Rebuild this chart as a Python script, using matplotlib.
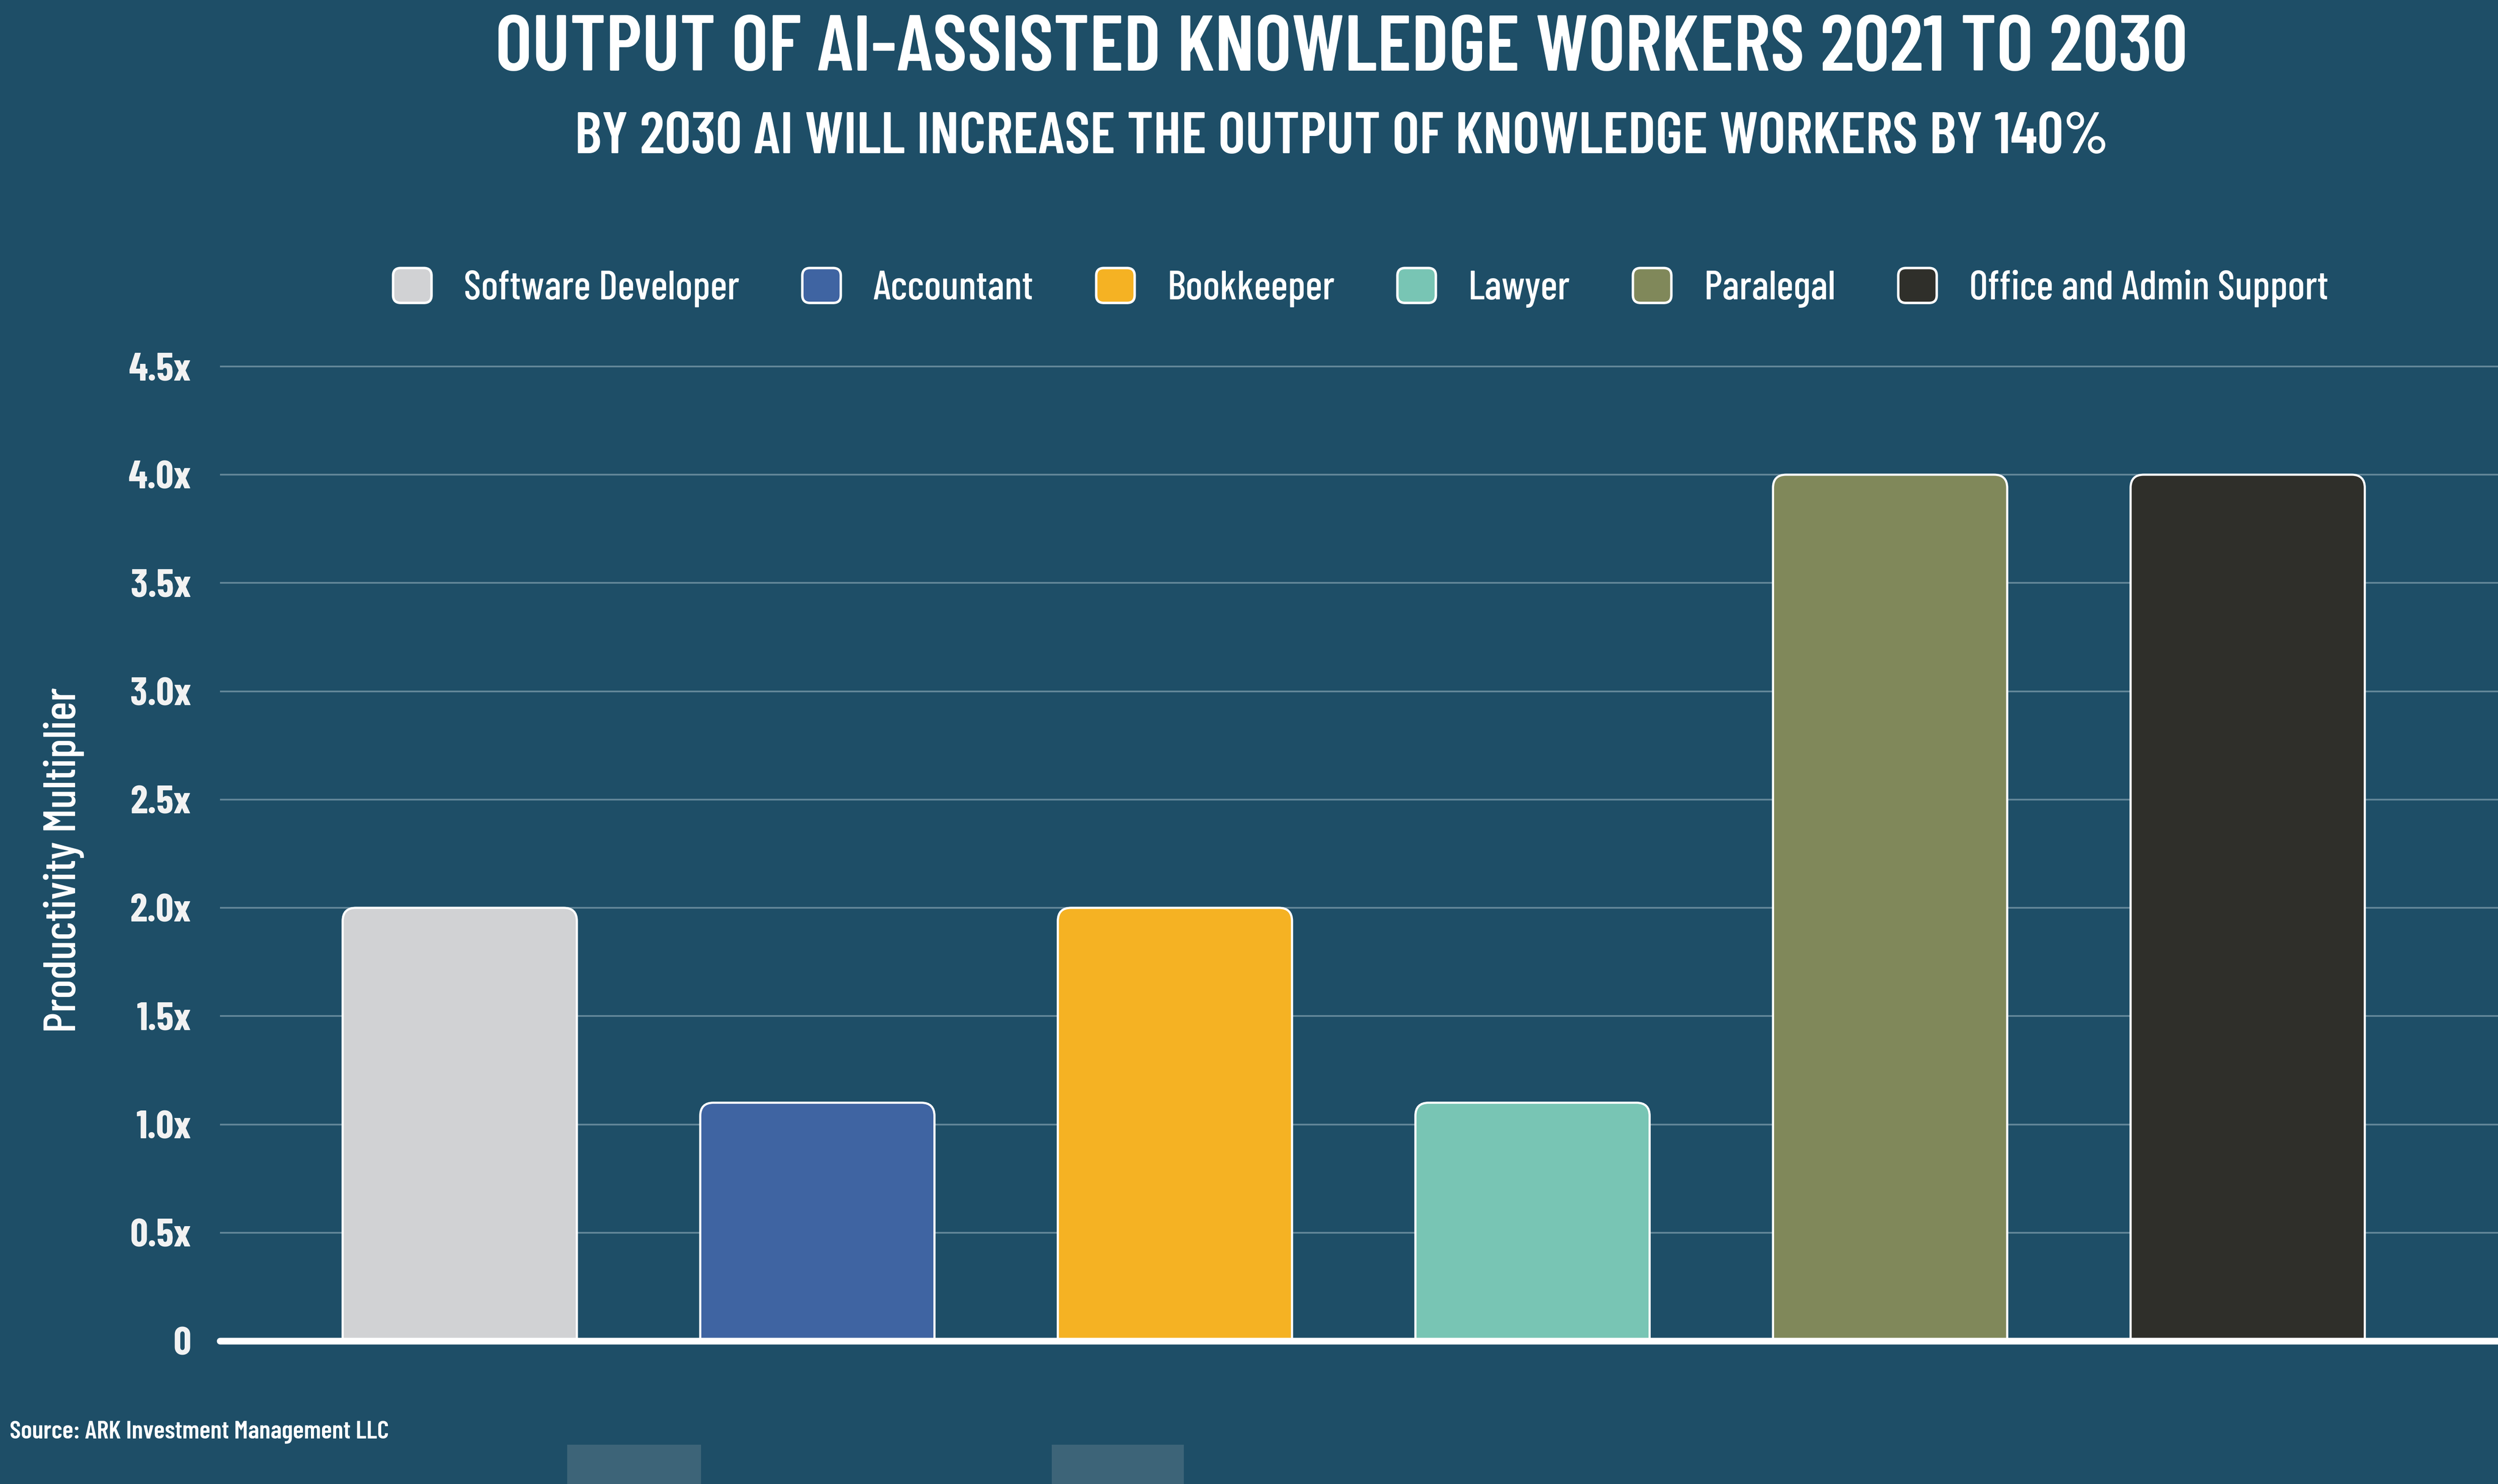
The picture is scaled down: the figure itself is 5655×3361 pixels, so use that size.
# -*- coding: utf-8 -*-
''' Productividad de trabajadores del conocimiento asistidos por IA (2021-2030)

Gráfica de barras con un multiplicador de productividad por profesión.
'''

from matplotlib import pyplot as plt
from matplotlib.patches import FancyBboxPatch, Rectangle, Patch
from matplotlib.legend_handler import HandlerPatch

# DATOS
profesiones = ['Software Developer', 'Accountant', 'Bookkeeper', 'Lawyer',
               'Paralegal', 'Office and Admin Support']
multiplicadores = [2.0, 1.1, 2.0, 1.1, 4.0, 4.0]
colores = ['#d1d2d4', '#3f64a2', '#f5b223', '#78c5b4', '#80885a', '#2f2f2a']
marcas_y = [0, 0.5, 1.0, 1.5, 2.0, 2.5, 3.0, 3.5, 4.0, 4.5]
etiquetas_y = ['0', '0.5x', '1.0x', '1.5x', '2.0x', '2.5x', '3.0x', '3.5x', '4.0x', '4.5x']

titulo = 'OUTPUT OF AI-ASSISTED KNOWLEDGE WORKERS 2021 TO 2030'
subtitulo = 'BY 2030 AI WILL INCREASE THE OUTPUT OF KNOWLEDGE WORKERS BY 140%'
fuente = 'Source: ARK Investment Management LLC'

FONDO = '#1e4e67'
REJILLA = '#638799'
FAMILIA = ['Barlow Condensed', 'DejaVu Sans']

plt.rcParams['font.family'] = FAMILIA


class ManejadorRedondeado(HandlerPatch):
    ''' Dibuja los cuadrados de la leyenda con esquinas redondeadas '''
    def create_artists(self, legend, orig_handle, xdescent, ydescent,
                       width, height, fontsize, trans):
        p = FancyBboxPatch((-xdescent, -ydescent), width, height,
                           boxstyle='round,pad=0,rounding_size=%f' % (0.22 * height),
                           facecolor=orig_handle.get_facecolor(),
                           edgecolor='white', linewidth=4)
        p.set_transform(trans)
        return [p]


fig = plt.figure(figsize=(56.55, 33.61), dpi=100, facecolor=FONDO)
ax = fig.add_axes([0.088, 0.0964, 0.912, 0.6713])
ax.set_facecolor(FONDO)
ax.set_xlim(-0.671, 5.70)
ax.set_ylim(0, 4.6)

# barras: se dibujan con ax.bar y se sustituyen por rectángulos redondeados
posiciones = list(range(len(profesiones)))
barras = ax.bar(posiciones, multiplicadores, width=0.655, color=colores)
p0 = ax.transData.transform((0, 0))
p1 = ax.transData.transform((1, 1))
aspecto = (p1[0] - p0[0]) / (p1[1] - p0[1])
radio = 0.037
for b in barras:
    x, y = b.get_x(), b.get_y()
    w, h = b.get_width(), b.get_height()
    extra = radio * aspecto
    r = FancyBboxPatch((x, y - extra), w, h + extra,
                       boxstyle='round,pad=0,rounding_size=%f' % radio,
                       mutation_aspect=aspecto,
                       facecolor=b.get_facecolor(), edgecolor='white',
                       linewidth=3.5, zorder=3)
    ax.add_patch(r)
    b.remove()

ax.set_yticks(marcas_y)
ax.set_yticklabels(etiquetas_y)
ax.set_xticks([])
ax.tick_params(axis='y', length=0, pad=47, labelsize=64, labelcolor='#f2f2f2')
for t in ax.get_yticklabels():
    t.set_fontweight('bold')
ax.grid(axis='y', color=REJILLA, linewidth=2.8, zorder=0)
ax.set_axisbelow(True)
for lado in ['top', 'right', 'left']:
    ax.spines[lado].set_visible(False)
ax.spines['bottom'].set_color('white')
ax.spines['bottom'].set_linewidth(11)
ax.spines['bottom'].set_capstyle('round')
ax.spines['bottom'].set_zorder(5)

# textos
fig.text(0.537, 0.966, titulo, ha='center', va='center', color='white',
         fontsize=129, fontweight=600)
fig.text(0.537, 0.907, subtitulo, ha='center', va='center', color='white',
         fontsize=95, fontweight=600)
fig.text(0.0255, 0.4204, 'Productivity Multiplier', rotation=90, ha='center',
         va='center', color='white', fontsize=74, fontweight=500)
fig.text(0.0039, 0.0351, fuente, ha='left', va='center', color='white',
         fontsize=42, fontweight=600)

# leyenda
manejadores = [Patch(facecolor=c, label=p) for c, p in zip(colores, profesiones)]
fig.legend(handles=manejadores, loc='center', bbox_to_anchor=(0.5447, 0.806),
           ncol=6, frameon=False, labelcolor='white',
           handlelength=0.95, handleheight=0.95, handletextpad=0.8,
           columnspacing=1.55, prop={'weight': 500, 'size': 66},
           handler_map={Patch: ManejadorRedondeado()})

# restos de otra gráfica al pie de la imagen
for x0, x1 in [(1284, 1587), (2381, 2680)]:
    fig.patches.append(Rectangle((x0 / 5655, 0), (x1 - x0) / 5655, 89 / 3361,
                                 transform=fig.transFigure, facecolor='#3d6478',
                                 edgecolor='none'))

fig.savefig('out.png', facecolor=FONDO)
